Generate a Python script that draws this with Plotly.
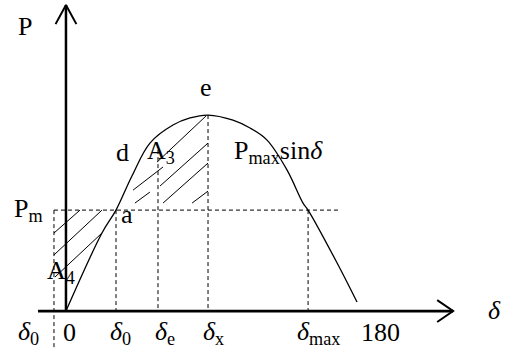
import plotly.graph_objects as go

# power-angle curve (delta in degrees, P in units of Pmax)
curve_delta = [0, 22.8, 31.7, 41.8, 53.2, 67.8, 78.6, 90, 105.8, 116.6, 127.4, 140.1, 150.2, 153.4, 171.8, 184.4]
curve_p = [0, 0.398, 0.515, 0.689, 0.857, 0.949, 0.985, 1.0, 0.974, 0.934, 0.872, 0.719, 0.551, 0.515, 0.245, 0.046]

# key angles and mechanical power
pm = 0.515
delta0_left = -7.6
delta0 = 31.7
delta_e = 58.3
delta_x = 90
delta_max = 153.4
p_at_delta_e = 0.821

# hatching strokes of A3 and A4 (x0, y0, x1, y1)
hatch_a3 = [
    (57.7, 0.760, 88.7, 0.995),
    (59.6, 0.638, 90.0, 0.857),
    (61.5, 0.551, 90.0, 0.755),
    (79.9, 0.551, 90.0, 0.612),
    (42.5, 0.617, 61.5, 0.735),
    (43.7, 0.551, 53.2, 0.607),
]
hatch_a4 = [
    (-7.6, 0.398, 8.9, 0.515),
    (-7.6, 0.286, 22.8, 0.515),
    (-7.0, 0.173, 22.8, 0.398),
]

# axis extents
x_axis_from, x_axis_to = -17.7, 245.3
y_axis_to = 1.561

serif = "Liberation Serif, Times New Roman, serif"
black = "black"

fig = go.Figure()


def seg(xs, ys, width=1, dash=None, shape="linear"):
    fig.add_trace(go.Scatter(x=xs, y=ys, mode="lines", hoverinfo="skip",
                             line=dict(color=black, width=width, dash=dash, shape=shape)))


# curve
seg(curve_delta, curve_p, width=1.3, shape="spline")

# dashed guides
dsh = "4px,3px"
seg([delta0_left, 173.7], [pm, pm], dash=dsh)
seg([delta0_left, delta0_left], [pm, -0.184], dash=dsh)
seg([delta0, delta0], [pm, 0], dash=dsh)
seg([delta_e, delta_e], [p_at_delta_e, 0], dash=dsh)
seg([delta_x, delta_x], [1.0, 0], dash=dsh)
seg([delta_max, delta_max], [pm, 0], dash=dsh)

# hatching
for x0, y0, x1, y1 in hatch_a3 + hatch_a4:
    seg([x0, x1], [y0, y1], width=1)

# axes with arrows
seg([x_axis_from, x_axis_to], [0, 0], width=2.8)
seg([0, 0], [0, y_axis_to], width=2.5)
seg([235.2, x_axis_to, 235.2], [0.056, 0, -0.056], width=2)
seg([-6.6, 0, 6.6], [1.464, y_axis_to, 1.464], width=2)

fs = 26
labels = [
    (-25.7, 1.450, "P"),
    (89.0, 1.140, "e"),
    (36.1, 0.810, "d"),
    (60.5, 0.810, "A<sub>3</sub>"),
    (134.5, 0.810, "P<sub>max</sub>sin<i>δ</i>"),
    (-24.0, 0.515, "P<sub>m</sub>"),
    (38.5, 0.495, "a"),
    (-3.0, 0.200, "A<sub>4</sub>"),
    (-24.0, -0.110, "<i>δ</i><sub>0</sub>"),
    (2.5, -0.110, "0"),
    (34.5, -0.110, "<i>δ</i><sub>0</sub>"),
    (63.0, -0.110, "<i>δ</i><sub>e</sub>"),
    (93.5, -0.110, "<i>δ</i><sub>x</sub>"),
    (160.0, -0.110, "<i>δ</i><sub>max</sub>"),
    (199.0, -0.110, "180"),
    (271.3, 0.005, "<i>δ</i>"),
]
for x, y, t in labels:
    fig.add_annotation(x=x, y=y, text=t, showarrow=False, xanchor="center", yanchor="middle",
                       font=dict(family=serif, size=fs, color=black))

fig.update_layout(
    width=512, height=352, margin=dict(l=0, r=0, t=0, b=0),
    paper_bgcolor="white", plot_bgcolor="white", showlegend=False,
    xaxis=dict(range=[-41.8, 282.6], visible=False, fixedrange=True),
    yaxis=dict(range=[-0.209, 1.587], visible=False, fixedrange=True),
)
fig.write_html("out.html", config={"displayModeBar": False},
               post_script="document.body.style.margin='0';document.body.style.overflow='hidden';")
